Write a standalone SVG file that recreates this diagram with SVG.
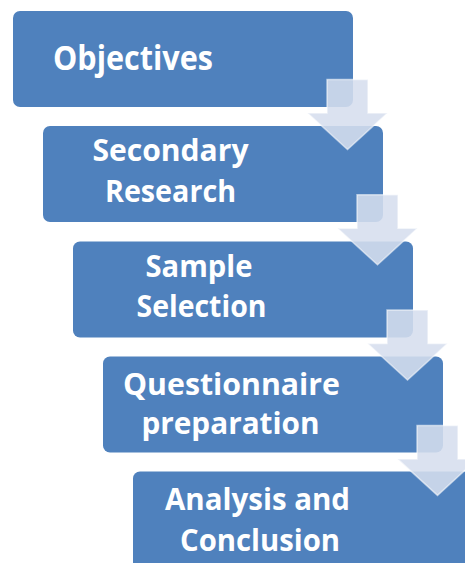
<svg xmlns="http://www.w3.org/2000/svg" width="465" height="563" viewBox="0 0 465 563">
  <style>
    .box { fill: #4f81bd; }
    .lbl { font-family: "Open Sans", "Liberation Sans", Arial, sans-serif; font-weight: 700; fill: #ffffff; font-size: 30px; }
    .big { font-size: 34px; }
    .arrow { fill: #d6deee; fill-opacity: 0.88; stroke: #ffffff; stroke-opacity: 0.55; stroke-width: 1.5; stroke-linejoin: miter; }
  </style>
  <defs>
    <!-- down arrow between consecutive steps -->
    <path id="downArrow" d="M327 79.5 H368 V113 H387.5 L347.5 149.5 L307.5 113 H327 Z"/>
  </defs>
  <rect width="465" height="563" fill="#ffffff"/>

  <g id="step1">
    <rect class="box" x="13" y="11" width="340" height="96" rx="7"/>
    <text class="lbl big" x="53" y="70" textLength="160" lengthAdjust="spacingAndGlyphs">Objectives</text>
  </g>

  <g id="step2">
    <rect class="box" x="43" y="126" width="340" height="96" rx="7"/>
    <text class="lbl" x="170.5" y="161" text-anchor="middle" textLength="156" lengthAdjust="spacingAndGlyphs">Secondary</text>
    <text class="lbl" x="170.5" y="202" text-anchor="middle" textLength="131" lengthAdjust="spacingAndGlyphs">Research</text>
  </g>

  <g id="step3">
    <rect class="box" x="73" y="241.5" width="340" height="96" rx="7"/>
    <text class="lbl" x="199" y="277" text-anchor="middle" textLength="107" lengthAdjust="spacingAndGlyphs">Sample</text>
    <text class="lbl" x="201.5" y="317" text-anchor="middle" textLength="130" lengthAdjust="spacingAndGlyphs">Selection</text>
  </g>

  <g id="step4">
    <rect class="box" x="103" y="356.5" width="340" height="96" rx="7"/>
    <text class="lbl" x="231.5" y="395" text-anchor="middle" textLength="217" lengthAdjust="spacingAndGlyphs">Questionnaire</text>
    <text class="lbl" x="230.5" y="434" text-anchor="middle" textLength="178" lengthAdjust="spacingAndGlyphs">preparation</text>
  </g>

  <g id="step5">
    <rect class="box" x="133" y="471.5" width="340" height="100" rx="7"/>
    <text class="lbl" x="257.5" y="510" text-anchor="middle" textLength="185" lengthAdjust="spacingAndGlyphs">Analysis and</text>
    <text class="lbl" x="260" y="551" text-anchor="middle" textLength="160" lengthAdjust="spacingAndGlyphs">Conclusion</text>
  </g>

  <g id="connectors">
    <use href="#downArrow" class="arrow"/>
    <use href="#downArrow" class="arrow" transform="translate(30 115.3)"/>
    <use href="#downArrow" class="arrow" transform="translate(60 230.6)"/>
    <use href="#downArrow" class="arrow" transform="translate(90 345.9)"/>
  </g>
</svg>
